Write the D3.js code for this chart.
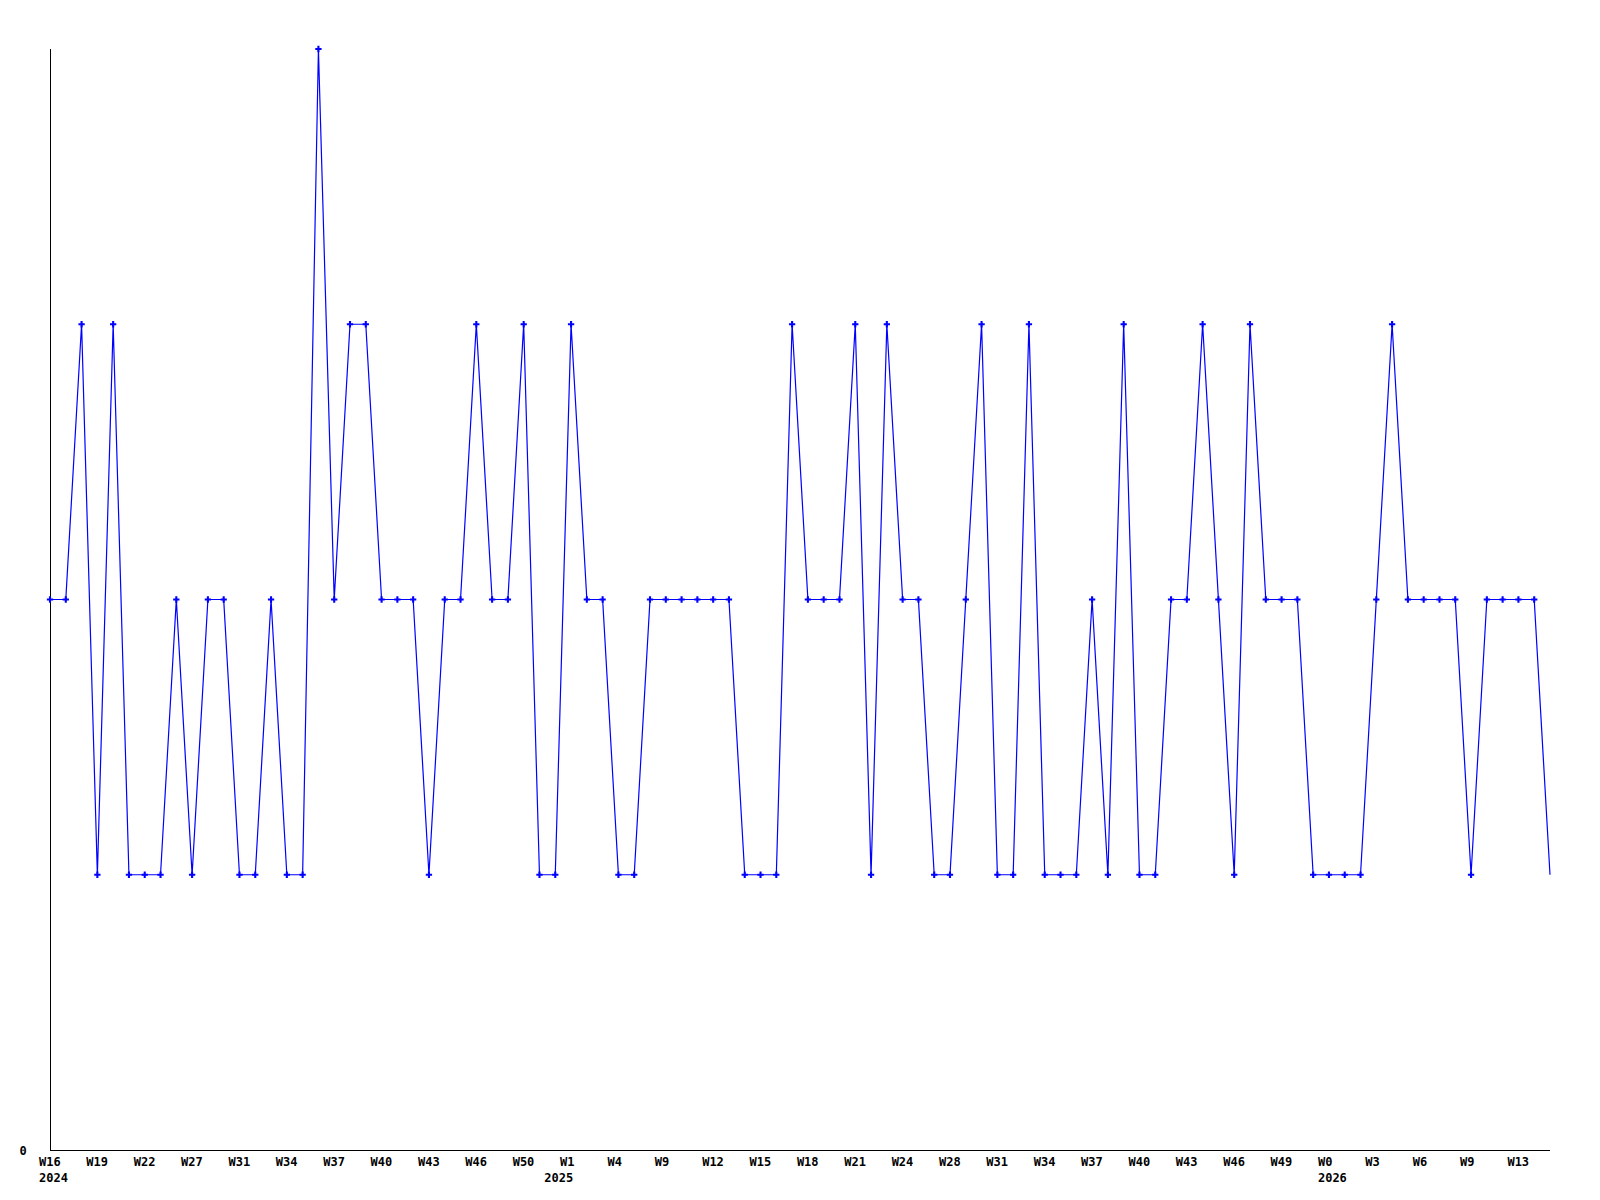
<!DOCTYPE html>
<html>
<head>
<meta charset="utf-8">
<script src="https://cdn.jsdelivr.net/npm/d3@7"></script>
<style>
  body { margin: 0; background: #fff; }
  text { font-family: "DejaVu Sans Mono", monospace; font-weight: bold; font-size: 12px; fill: #000; }
</style>
</head>
<body>
<div id="chart"></div>
<script>
// weekly values, one point per week
var values = [
  2, 2, 3, 1, 3, 1, 1, 1, 2, 1,
  2, 2, 1, 1, 2, 1, 1, 4, 2, 3,
  3, 2, 2, 2, 1, 2, 2, 3, 2, 2,
  3, 1, 1, 3, 2, 2, 1, 1, 2, 2,
  2, 2, 2, 2, 1, 1, 1, 3, 2, 2,
  2, 3, 1, 3, 2, 2, 1, 1, 2, 3,
  1, 1, 3, 1, 1, 1, 2, 1, 3, 1,
  1, 2, 2, 3, 2, 1, 3, 2, 2, 2,
  1, 1, 1, 1, 2, 3, 2, 2, 2, 2,
  1, 2, 2, 2, 2, 1
];

// tick labels, one every third week
var weekLabels = [
  "W16", "W19", "W22", "W27", "W31", "W34", "W37", "W40", "W43", "W46", "W50",
  "W1", "W4", "W9", "W12", "W15", "W18", "W21", "W24", "W28", "W31", "W34",
  "W37", "W40", "W43", "W46", "W49", "W0", "W3", "W6", "W9", "W13"
];
var yearLabels = ["2024", "2025", "2026"];
var yearIndex = [0, 32, 81];
var yTicks = [0];

var width = 1600, height = 1200;
var margin = {top: 49, right: 50, bottom: 50, left: 50};

var svg = d3.select("#chart").append("svg")
  .attr("width", width)
  .attr("height", height);

var x = d3.scaleLinear()
  .domain([0, values.length - 1])
  .range([margin.left, width - margin.right]);

var y = d3.scaleLinear()
  .domain([0, 4])
  .range([height - margin.bottom, margin.top]);

// axes lines
svg.append("line")
  .attr("x1", x(0) + 0.5).attr("x2", x(0) + 0.5)
  .attr("y1", y(4)).attr("y2", y(0) + 0.5)
  .attr("stroke", "#000").attr("shape-rendering", "crispEdges");
svg.append("line")
  .attr("x1", x(0)).attr("x2", x(values.length - 1))
  .attr("y1", y(0) + 0.5).attr("y2", y(0) + 0.5)
  .attr("stroke", "#000").attr("shape-rendering", "crispEdges");

// y label
svg.selectAll(".ylab")
  .data(yTicks)
  .enter().append("text")
  .attr("class", "ylab")
  .attr("x", 23)
  .attr("y", function(d) { return y(d) + 5; })
  .attr("text-anchor", "middle")
  .text(function(d) { return d; });

// week labels
svg.selectAll(".wlab")
  .data(weekLabels)
  .enter().append("text")
  .attr("class", "wlab")
  .attr("x", function(d, i) { return x(i * 3) - 11; })
  .attr("y", y(0) + 16)
  .text(function(d) { return d; });

// year labels
svg.selectAll(".ylabel")
  .data(yearLabels)
  .enter().append("text")
  .attr("class", "ylabel")
  .attr("x", function(d, i) { return x(yearIndex[i]) - 11; })
  .attr("y", y(0) + 32)
  .text(function(d) { return d; });

// the line
var line = d3.line()
  .x(function(d, i) { return x(i); })
  .y(function(d) { return y(d); });

svg.append("path")
  .datum(values)
  .attr("d", line)
  .attr("fill", "none")
  .attr("stroke", "#0000ff")
  .attr("stroke-width", 1.2);

// markers (last point has none)
var cross = d3.symbol().type(d3.symbolCross).size(22);
svg.selectAll(".pt")
  .data(values.slice(0, values.length - 1))
  .enter().append("path")
  .attr("class", "pt")
  .attr("d", cross)
  .attr("transform", function(d, i) { return "translate(" + x(i) + "," + y(d) + ")"; })
  .attr("fill", "#0000ff");
</script>
</body>
</html>
